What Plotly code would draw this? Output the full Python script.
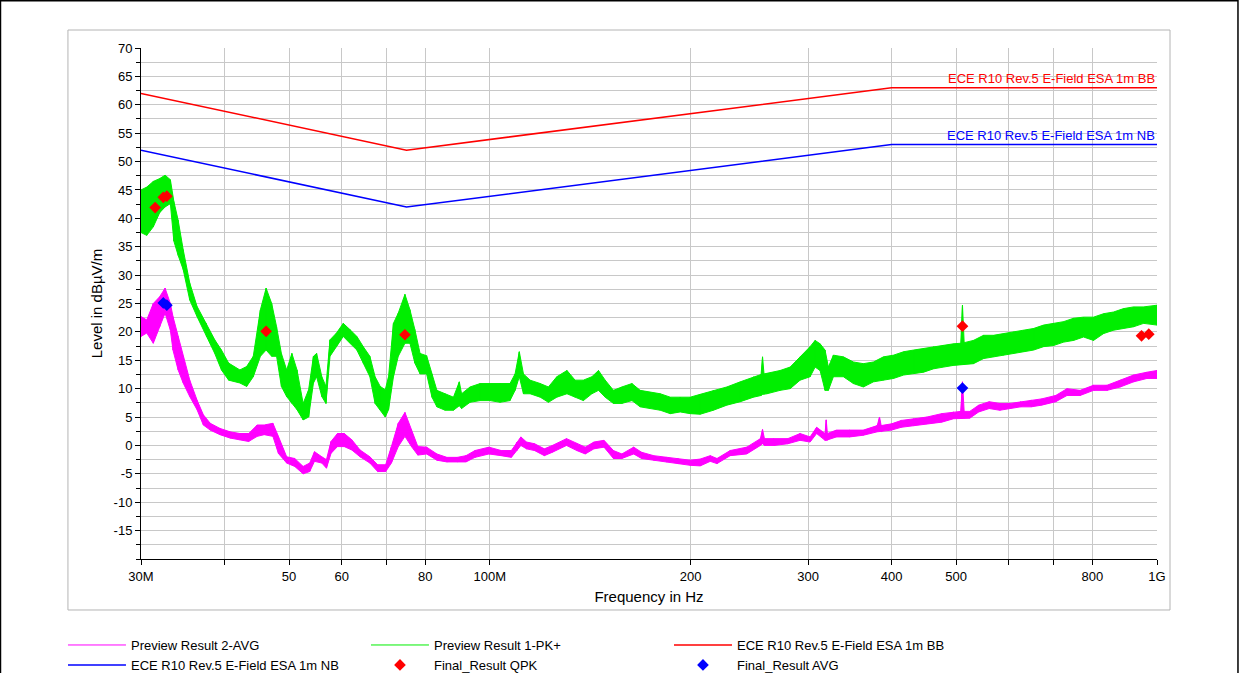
import plotly.graph_objects as go

# ---------------- data ----------------
# Preview Result 1-PK+ : frequency (MHz), upper / lower envelope of the noisy trace (dBµV/m)
pk_freq = [30.0, 30.6, 31.3, 32.0, 32.6, 33.2, 33.6, 34.1, 34.7, 35.5, 36.4, 37.6, 38.7, 39.6, 40.6,
           42.2, 43.2, 44.2, 45.3, 46.2, 47.1, 47.9, 48.7, 49.6, 50.5, 51.4, 52.5, 53.5, 54.4, 55.0,
           56.0, 56.8, 57.6, 58.9, 60.3, 61.7, 63.2, 64.6, 66.1, 67.3, 68.5, 69.7, 70.5, 71.7, 72.9,
           74.6, 75.9, 77.2, 78.6, 80.4, 81.9, 83.3, 85.7, 88.2, 90.0, 90.7, 93.4, 96.7, 100.1, 103.6,
           107.2, 109.1, 110.7, 112.3, 114.9, 119.0, 122.4, 126.0, 130.5, 134.2, 138.1, 142.2, 145.5,
           148.9, 153.2, 157.7, 163.3, 168.0, 173.9, 180.1, 186.4, 192.9, 199.7, 206.7, 216.3, 226.6,
           237.3, 248.4, 255.0, 256.3, 257.6, 260.2, 272.3, 281.9, 291.8, 302.0, 307.3, 312.6, 318.0,
           321.7, 327.3, 338.8, 350.7, 363.0, 375.8, 389.0, 402.8, 417.0, 431.7, 446.8, 462.6, 478.6,
           495.4, 508.0, 511.0, 514.0, 530.7, 549.6, 568.8, 588.9, 609.6, 631.0, 653.2, 676.0, 699.8,
           724.4, 749.8, 776.0, 803.3, 831.5, 860.7, 891.0, 922.3, 954.7, 1000.0]
pk_hi = [45.0, 45.5, 46.5, 47.0, 47.6, 46.8, 43.0, 39.7, 34.5, 28.6, 24.5, 21.5, 18.6, 16.8, 14.5,
         13.3, 13.9, 15.7, 23.9, 27.7, 25.0, 20.9, 16.2, 13.3, 16.2, 13.3, 7.4, 9.8, 15.7, 16.2,
         12.1, 10.4, 18.6, 19.8, 21.5, 20.4, 19.2, 17.4, 15.7, 12.1, 10.4, 9.8, 12.1, 21.5, 23.3,
         26.6, 23.9, 20.4, 16.2, 15.8, 12.6, 9.7, 9.1, 8.5, 11.2, 9.1, 10.3, 10.9, 10.9, 10.9,
         10.9, 12.6, 16.5, 12.6, 11.5, 10.9, 10.3, 12.1, 13.2, 11.5, 11.5, 12.1, 13.2,
         11.5, 9.7, 10.3, 10.9, 9.7, 9.4, 9.1, 8.5, 8.5, 8.5, 9.0, 9.7, 10.3,
         11.2, 12.1, 12.5, 15.6, 12.6, 12.7, 13.2, 13.8, 15.6, 17.4, 18.5, 17.9, 16.8,
         13.8, 15.9, 15.6, 14.7, 14.4, 14.7, 15.6, 15.9, 16.5, 16.8, 17.1, 17.4, 17.6,
         17.9, 18.0, 24.7, 18.1, 18.5, 19.4, 19.4, 19.7, 20.0, 20.3, 20.6, 21.2, 21.5,
         21.8, 22.4, 22.6, 22.6, 23.2, 23.5, 24.1, 24.4, 24.4, 24.7]
pk_lo = [37.5, 37.0, 38.5, 41.0, 42.0, 42.6, 36.0, 33.5, 31.0, 25.6, 22.7, 19.2, 16.2, 13.3, 11.5,
         11.0, 10.4, 12.1, 15.7, 16.8, 15.7, 15.7, 10.4, 8.6, 7.4, 6.3, 4.5, 5.0, 11.0, 12.1,
         8.6, 7.4, 15.7, 17.4, 19.2, 18.0, 16.8, 14.5, 12.1, 7.4, 6.3, 5.0, 6.3, 12.1, 15.7,
         18.0, 18.0, 14.5, 12.6, 12.6, 8.5, 6.8, 6.2, 6.2, 7.0, 6.5, 7.6, 7.9, 7.9, 7.6,
         7.9, 9.7, 12.1, 9.1, 9.1, 8.5, 7.6, 8.5, 9.1, 8.5, 7.9, 9.1, 9.7,
         8.5, 7.4, 7.4, 7.9, 6.8, 6.5, 6.2, 5.6, 5.9, 5.6, 5.5, 6.2, 7.1,
         7.7, 8.5, 8.8, 9.0, 9.0, 9.1, 9.7, 10.0, 11.5, 12.1, 13.8, 13.2, 9.7,
         9.7, 12.1, 12.1, 10.9, 10.3, 11.2, 11.5, 11.8, 12.4, 12.7, 12.9, 13.5, 13.8,
         14.1, 14.2, 14.3, 14.3, 14.4, 15.3, 15.6, 15.9, 16.2, 16.5, 16.8, 17.4, 17.6,
         18.2, 18.5, 19.1, 18.5, 19.7, 20.3, 20.6, 20.9, 21.5, 21.2]

# Preview Result 2-AVG : frequency (MHz), upper / lower envelope (dBµV/m)
avg_freq = [30.0, 30.6, 31.3, 32.0, 32.6, 33.2, 33.5, 34.1, 34.7, 35.5, 36.4, 37.2, 38.1, 39.4, 40.8,
            42.2, 43.5, 44.8, 45.9, 47.3, 48.2, 49.6, 51.0, 52.5, 53.7, 54.6, 56.0, 56.9, 57.8, 59.1,
            60.5, 62.1, 63.9, 66.1, 67.9, 69.8, 71.2, 72.9, 74.6, 76.3, 78.0, 80.4, 83.3, 86.2, 89.4,
            92.1, 95.0, 99.7, 104.0, 107.7, 109.8, 111.3, 113.5, 116.7, 120.7, 124.1, 130.3, 135.0,
            139.0, 143.2, 148.3, 153.2, 157.7, 164.3, 168.8, 176.0, 183.9, 191.6, 199.7, 206.7, 214.0,
            219.0, 229.2, 242.7, 254.4, 256.3, 258.0, 266.7, 279.7, 291.8, 302.0, 308.9, 318.0, 319.3,
            320.6, 330.7, 346.1, 363.0, 380.8, 383.8, 386.0, 399.9, 413.7, 431.7, 452.0, 475.7, 495.4,
            508.0, 511.0, 514.0, 524.0, 540.5, 560.4, 581.1, 602.5, 624.7, 647.7, 671.6, 705.0, 733.0,
            767.0, 803.3, 841.5, 881.0, 922.3, 966.0, 1000.0]
avg_hi = [22.7, 22.1, 25.0, 26.2, 27.7, 25.0, 22.7, 19.2, 15.7, 11.5, 8.0, 5.4, 3.9, 3.0, 2.4,
          2.1, 2.1, 3.6, 3.6, 3.9, 1.6, -2.0, -2.3, -3.7, -3.1, -1.1, -2.0, -2.5, 0.7, 2.1,
          2.1, 1.0, -0.8, -2.0, -3.4, -3.4, -0.2, 3.9, 5.8, 2.7, -0.2, -0.3, -1.5, -2.1, -2.1,
          -1.8, -0.9, -0.3, -0.9, -0.9, 0.6, 1.5, 0.6, 0.3, -0.6, 0.0, 1.2, 0.3,
          -0.3, 0.6, 0.9, -0.9, -1.5, -0.3, -1.2, -1.8, -2.1, -2.3, -2.6, -2.4, -1.8,
          -2.3, -0.9, -0.3, 1.2, 2.8, 1.2, 1.2, 1.2, 2.1, 1.5, 3.2, 2.1, 4.5,
          2.1, 2.7, 2.7, 2.7, 3.5, 5.0, 3.5, 3.8, 4.4, 4.7, 5.0, 5.6, 5.9,
          6.0, 11.2, 6.0, 6.0, 7.1, 7.7, 7.4, 7.4, 7.7, 8.0, 8.2, 8.8, 10.0,
          9.7, 10.6, 10.6, 11.5, 12.4, 12.9, 13.2]
avg_lo = [19.2, 19.8, 18.0, 20.9, 23.3, 20.3, 16.8, 13.3, 11.0, 8.6, 6.3, 3.6, 2.7, 1.9, 1.3,
          1.0, 0.7, 1.6, 1.9, 1.6, -1.4, -3.1, -3.7, -5.0, -4.6, -2.8, -3.1, -4.0, -1.4, -0.2,
          -0.2, -0.8, -2.0, -3.1, -4.6, -4.6, -3.1, -0.2, 1.6, -0.2, -1.7, -1.5, -2.6, -2.9, -2.9,
          -2.9, -2.1, -1.5, -1.8, -2.1, -0.9, 0.0, -0.6, -0.9, -1.8, -1.2, 0.0, -0.9,
          -1.5, -0.6, -0.3, -2.3, -2.3, -1.5, -2.3, -2.6, -2.9, -3.2, -3.5, -3.6, -2.8,
          -3.2, -1.8, -1.5, 0.0, 0.3, 0.0, 0.0, 0.3, 0.9, 0.6, 2.1, 0.9, 0.9,
          0.9, 1.5, 1.5, 1.8, 2.4, 2.4, 2.4, 2.7, 3.2, 3.5, 3.8, 4.1, 4.7,
          4.8, 4.8, 4.8, 4.8, 5.9, 6.5, 6.2, 6.5, 6.8, 6.8, 7.1, 7.7, 8.8,
          8.8, 9.7, 9.7, 10.3, 11.2, 11.8, 11.8]

# Limit lines
lim_freq = [30, 75, 400, 1000]
lim_bb = [62, 52, 63, 63]
lim_nb = [52, 42, 53, 53]

# Final results
qpk_freq = [31.5, 32.4, 32.8, 46.2, 74.6, 511.0, 948.0, 972.0]
qpk_level = [41.9, 43.7, 43.9, 20.1, 19.5, 21.0, 19.3, 19.6]
favg_freq = [32.4, 32.8, 511.0]
favg_level = [25.1, 24.7, 10.1]

# Axis ticks
x_tickvals = [30, 40, 50, 60, 70, 80, 100, 200, 300, 400, 500, 600, 700, 800, 1000]
x_ticktext = ["30M", "", "50", "60", "", "80", "100M", "200", "300", "400", "500", "", "", "800", "1G"]
y_tickvals = list(range(-15, 71, 5))
y_ticktext = [str(v) for v in y_tickvals]

# ---------------- figure ----------------
FONT = "Liberation Sans, Arial, sans-serif"
GREEN = "#00ee00"
MAGENTA = "#ff00ff"


def zigzag(f, hi, lo):
    xs, ys = [], []
    for a, b, c in zip(f, hi, lo):
        xs += [a, a]
        ys += [b, c]
    return xs, ys


fig = go.Figure()

# filled noise bands (no legend)
for f, hi, lo, col in [(pk_freq, pk_hi, pk_lo, GREEN), (avg_freq, avg_hi, avg_lo, MAGENTA)]:
    fig.add_trace(go.Scatter(x=f + f[::-1], y=hi + lo[::-1], mode="lines", fill="toself",
                             fillcolor=col, line=dict(color=col, width=1), showlegend=False,
                             hoverinfo="skip"))

zx, zy = zigzag(avg_freq, avg_hi, avg_lo)
fig.add_trace(go.Scatter(x=zx, y=zy, mode="lines", name="Preview Result 2-AVG",
                         line=dict(color=MAGENTA, width=1)))
zx, zy = zigzag(pk_freq, pk_hi, pk_lo)
fig.add_trace(go.Scatter(x=zx, y=zy, mode="lines", name="Preview Result 1-PK+",
                         line=dict(color=GREEN, width=1)))
fig.add_trace(go.Scatter(x=lim_freq, y=lim_bb, mode="lines", name="ECE R10 Rev.5 E-Field ESA 1m BB",
                         line=dict(color="#ff0000", width=1.5)))
fig.add_trace(go.Scatter(x=lim_freq, y=lim_nb, mode="lines", name="ECE R10 Rev.5 E-Field ESA 1m NB",
                         line=dict(color="#0000ff", width=1.5)))
fig.add_trace(go.Scatter(x=qpk_freq, y=qpk_level, mode="markers", name="Final_Result QPK",
                         marker=dict(symbol="diamond", size=9, color="#ff0000")))
fig.add_trace(go.Scatter(x=favg_freq, y=favg_level, mode="markers", name="Final_Result AVG",
                         marker=dict(symbol="diamond", size=9, color="#0000ff")))

GRID = "#c8c8c8"
fig.update_layout(
    width=1240, height=673,
    margin=dict(l=141, r=83, t=48, b=114, autoexpand=False),
    paper_bgcolor="white", plot_bgcolor="white",
    font=dict(family=FONT, size=13, color="#000000"),
    xaxis=dict(type="log", range=[1.4771213, 3.0], tickvals=x_tickvals, ticktext=x_ticktext,
               showgrid=True, gridcolor=GRID, gridwidth=1, showline=True, linecolor="#000000",
               linewidth=1, ticks="outside", ticklen=5, tickcolor="#000000",
               tickfont=dict(size=13), automargin=False,
               title=dict(text="Frequency in Hz", font=dict(size=15), standoff=8)),
    yaxis=dict(range=[-20, 70], tickvals=y_tickvals, ticktext=y_ticktext, showgrid=True,
               gridcolor=GRID, gridwidth=1, zeroline=False, showline=True, linecolor="#000000",
               linewidth=1, ticks="outside", ticklen=5, tickcolor="#000000",
               tickfont=dict(size=13), automargin=False,
               minor=dict(dtick=2.5, showgrid=True, gridcolor=GRID, ticks="outside", ticklen=4,
                          tickcolor="#000000"),
               title=dict(text="Level in dBµV/m", font=dict(size=15), standoff=7)),
    legend=dict(orientation="h", x=-0.0768, xanchor="left", y=-0.139, yanchor="top",
                font=dict(size=13), itemwidth=58, entrywidth=230, entrywidthmode="pixels",
                bgcolor="rgba(0,0,0,0)", tracegroupgap=0),
    showlegend=True,
)

fig.add_annotation(x=3.0, y=63, xref="x", yref="y", text="ECE R10 Rev.5 E-Field ESA 1m BB",
                   showarrow=False, xanchor="right", yanchor="bottom",
                   font=dict(color="#ff0000", size=13))
fig.add_annotation(x=3.0, y=53, xref="x", yref="y", text="ECE R10 Rev.5 E-Field ESA 1m NB",
                   showarrow=False, xanchor="right", yanchor="bottom",
                   font=dict(color="#0000ff", size=13))

# inner frame and outer border
fig.add_shape(type="rect", xref="paper", yref="paper", x0=-0.0719, x1=1.0128, y0=-0.0998, y1=1.0352,
              line=dict(color="#b4b4b4", width=1), layer="below")
fig.add_shape(type="rect", xref="paper", yref="paper", x0=-0.1383, x1=1.0797, y0=-0.30, y1=1.0925,
              line=dict(color="#000000", width=1.5), layer="below")

fig.write_html("out.html", config={"displayModeBar": False},
               post_script="document.body.style.margin='0';document.body.style.padding='0';")
